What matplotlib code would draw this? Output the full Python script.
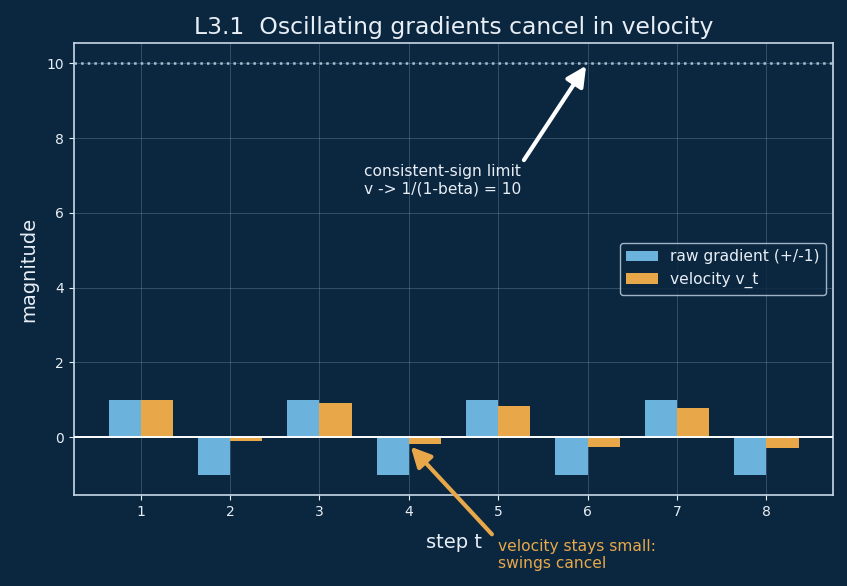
import numpy as np
import matplotlib
matplotlib.use("Agg")
import matplotlib.pyplot as plt

steps = [1, 2, 3, 4, 5, 6, 7, 8]
raw_grad = [1, -1, 1, -1, 1, -1, 1, -1]
velocity = [1.0, -0.1, 0.91, -0.18, 0.84, -0.25, 0.78, -0.30]
limit = 10

bg = "#0b2740"
fg = "#e8eef5"
blue = "#6bb3dc"
orange = "#e8a84a"

fig, ax = plt.subplots(figsize=(8.47, 5.86), dpi=100)
fig.patch.set_facecolor(bg)
ax.set_facecolor(bg)

x = np.array(steps)
w = 0.36
ax.bar(x - w / 2, raw_grad, width=w, color=blue, label="raw gradient (+/-1)", zorder=3)
ax.bar(x + w / 2, velocity, width=w, color=orange, label="velocity v_t", zorder=3)

ax.axhline(0, color="white", lw=1.4, zorder=4)
ax.axhline(limit, color="#a9c0d3", lw=1.8, ls=":", zorder=2)

ax.grid(True, color="#8fa9c0", alpha=0.3, lw=0.7, zorder=0)
ax.set_xlim(0.25, 8.75)
ax.set_ylim(-1.55, 10.55)
ax.set_xticks(steps)
ax.set_yticks([0, 2, 4, 6, 8, 10])

for s in ax.spines.values():
    s.set_color("#c8d8e8")
    s.set_linewidth(1.2)
ax.tick_params(colors=fg, labelsize=10)

ax.set_title("L3.1  Oscillating gradients cancel in velocity", color=fg, fontsize=16.9, pad=6)
ax.set_xlabel("step t", color=fg, fontsize=14, labelpad=10)
ax.set_ylabel("magnitude", color=fg, fontsize=14, labelpad=6)

# limit annotation
ax.text(3.5, 6.43, "consistent-sign limit\nv -> 1/(1-beta) = 10", color=fg, fontsize=11.2,
        ha="left", va="bottom")
ax.annotate("", xy=(6, 10), xytext=(5.27, 7.35),
            arrowprops=dict(arrowstyle="-|>", color="white", lw=3, mutation_scale=30))

# small velocity annotation
ax.annotate("", xy=(4.0, -0.2), xytext=(4.95, -2.65), annotation_clip=False,
            arrowprops=dict(arrowstyle="-|>", color=orange, lw=3, mutation_scale=30))
ax.text(5.0, -2.72, "velocity stays small:\nswings cancel", color=orange, fontsize=11.2,
        ha="left", va="top", clip_on=False)

leg = ax.legend(loc="center right", facecolor=bg, edgecolor="#c8d8e8", fontsize=11.2)
for t in leg.get_texts():
    t.set_color(fg)

plt.subplots_adjust(left=0.087, right=0.984, top=0.927, bottom=0.155)
plt.savefig("out.png", dpi=100, facecolor=bg)
